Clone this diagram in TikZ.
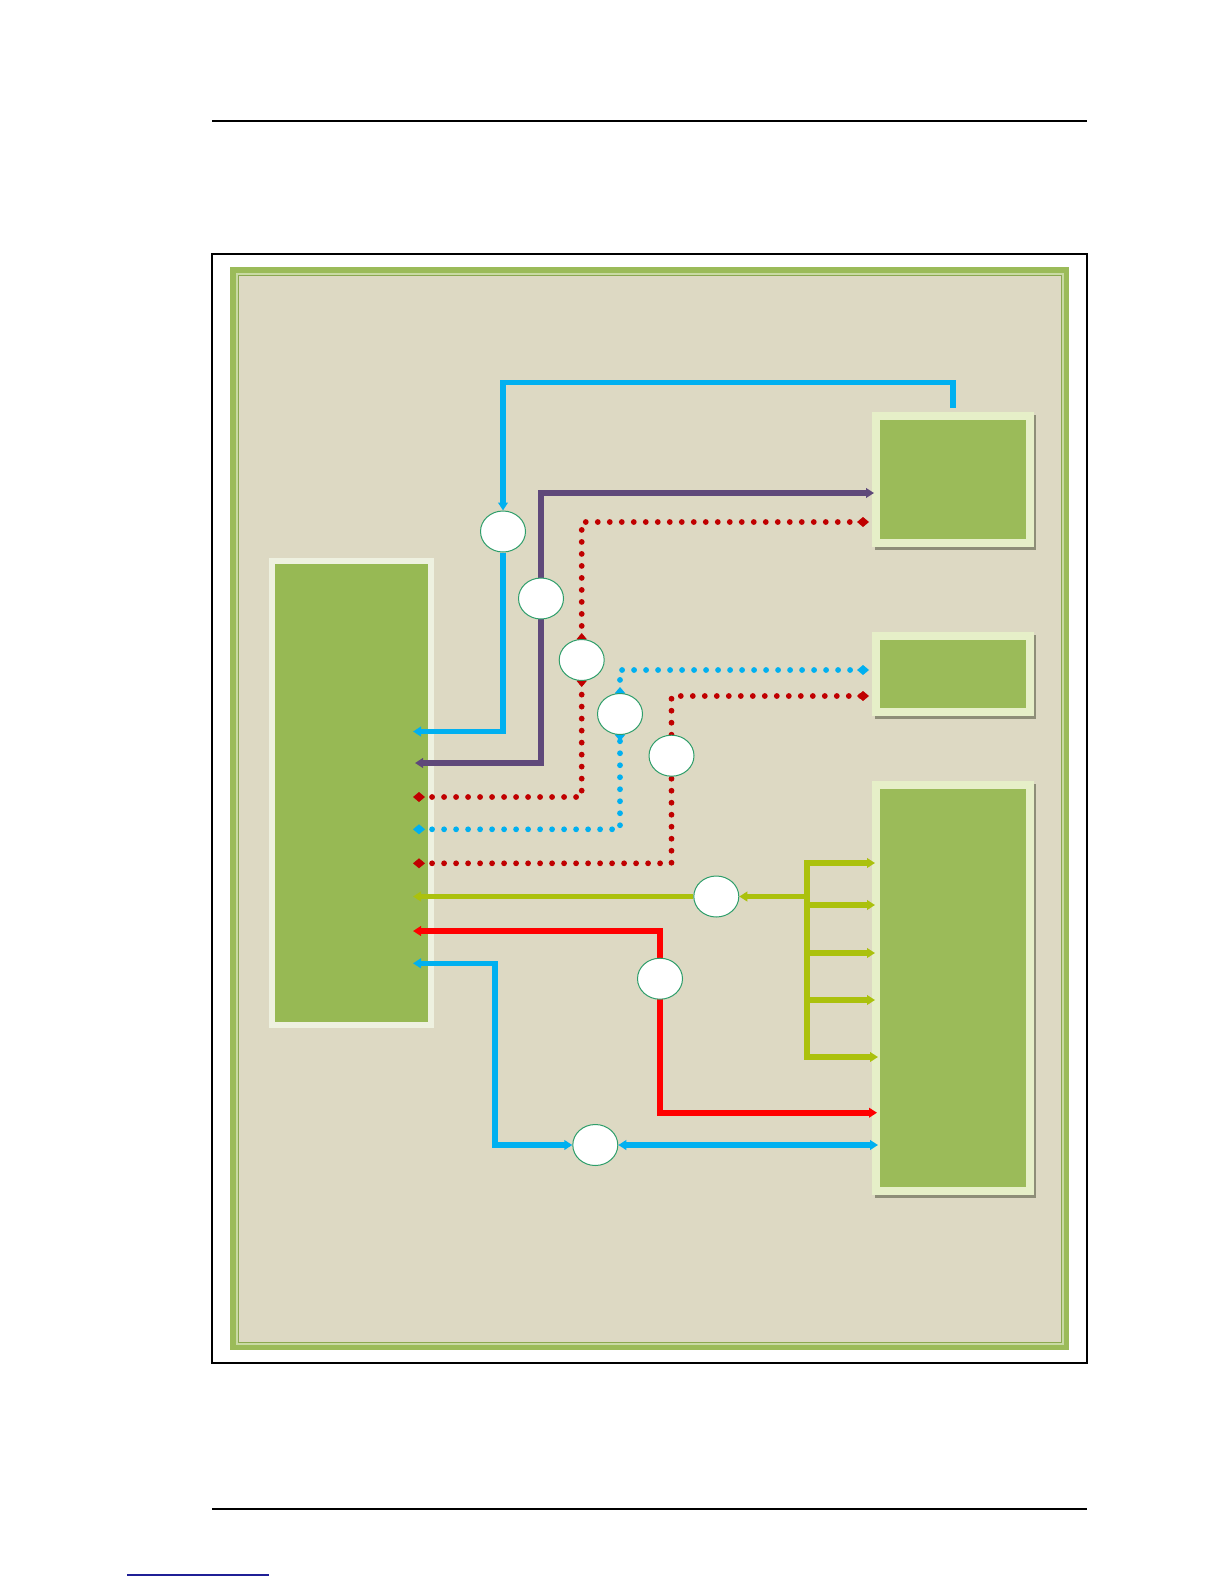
\documentclass[tikz,border=0pt]{standalone}
\usetikzlibrary{arrows.meta,shapes.geometric}
\definecolor{beige}{HTML}{DDD9C3}
\definecolor{fgreen}{HTML}{9BBB59}
\definecolor{flight}{HTML}{C9DAA4}
\definecolor{bgreen}{HTML}{9BBB59}
\definecolor{lgreen}{HTML}{97B954}
\definecolor{lborder}{HTML}{EEF1E0}
\definecolor{rborder}{HTML}{E6EFC8}
\definecolor{shadowc}{HTML}{8E8E78}
\definecolor{cyanc}{HTML}{00B0F0}
\definecolor{purc}{HTML}{5F497A}
\definecolor{dredc}{HTML}{C00000}
\definecolor{limec}{HTML}{ABC10D}
\definecolor{redc}{HTML}{FF0000}
\definecolor{ringc}{HTML}{2E9E6A}
\definecolor{linkc}{HTML}{1F1F96}
\pgfdeclarelayer{base}
\pgfdeclarelayer{wires}
\pgfsetlayers{base,wires,main}
\tikzset{
  mytri/.tip={Triangle[length=4pt,width=4.8pt]},
  mydia/.tip={Diamond[length=6pt,width=5pt]},
  wire/.style={line width=2.8pt},
  dots/.style={line width=2.9pt, line cap=round, dash pattern=on 0pt off 6pt},
  ring/.style={ellipse, draw=ringc, line width=0.5pt, fill=white, minimum width=22.5pt, minimum height=20.5pt, inner sep=0pt},
  lbox/.style={draw=lborder, fill=lgreen, line width=3pt, inner sep=0pt},
  rbox/.style={draw=rborder, fill=bgreen, line width=4pt, inner sep=0pt},
  rule/.style={line width=0.75pt, black},
}
\begin{document}
\begin{tikzpicture}[x=0.5pt,y=-0.5pt]
\useasboundingbox (0,0) rectangle (1224,1584);
\begin{pgfonlayer}{base}
\fill[white] (0,0) rectangle (1224,1584);
% page rules
\draw[rule] (212,121) -- (1087,121);
\draw[rule] (212,1509) -- (1087,1509);
\draw[linkc, line width=0.7pt] (127,1575) -- (269,1575);
% frame
\draw[rule] (212,254) rectangle (1087,1363);
\fill[fgreen] (230,267) rectangle (1069,1350);
\fill[flight] (235.5,272.5) rectangle (1063.5,1344.5);
\fill[fgreen!90!black] (237.5,274.5) rectangle (1061.5,1342.5);
\fill[beige] (238.5,275.5) rectangle (1060.5,1341.5);
% shadows
\fill[shadowc] (875,415) rectangle (1036,550);
\fill[shadowc] (875,635) rectangle (1036,719);
\fill[shadowc] (875,784) rectangle (1036,1198);
% boxes
\node[lbox, minimum width=79.5pt, minimum height=232pt] (lb) at (351.5,793) {};
\node[rbox, minimum width=77pt, minimum height=63.5pt] (rb1) at (953,479.5) {};
\node[rbox, minimum width=77pt, minimum height=38.25pt] (rb2) at (953,673.75) {};
\node[rbox, minimum width=77pt, minimum height=203pt] (rb3) at (953,988) {};
\end{pgfonlayer}

% junctions
\node[ring] (c1) at (503,531.5) {};
\node[ring] (c2) at (541,598.5) {};
\node[ring] (c3) at (581.7,660) {};
\node[ring] (c4) at (620,714) {};
\node[ring] (c5) at (671.5,755.7) {};
\node[ring] (c6) at (716.3,896.5) {};
\node[ring] (c7) at (660,978.7) {};
\node[ring] (c8) at (595.3,1145) {};

% ports
\coordinate (l1) at (413,731.5);
\coordinate (l2) at (415,763);
\coordinate (l3) at (413,797);
\coordinate (l4) at (413,829.3);
\coordinate (l5) at (413,863.3);
\coordinate (l6) at (413,896.5);
\coordinate (l7) at (413,931);
\coordinate (l8) at (413,963.3);
\coordinate (r1a) at (874,493);
\coordinate (r1b) at (869,522);
\coordinate (r2a) at (869,670);
\coordinate (r2b) at (869,696);
\coordinate (b1) at (875,863);
\coordinate (b2) at (875,905);
\coordinate (b3) at (875,953);
\coordinate (b4) at (875,1000);
\coordinate (b5) at (878,1057);
\coordinate (r3a) at (877,1112.7);
\coordinate (r3b) at (878,1145);
% corners
\coordinate (k1) at (503,382.5);
\coordinate (k2) at (541,493);
\coordinate (j6) at (807,896.5);
\coordinate (j6b) at (807,1057);
\coordinate (k7) at (660,1112.7);
\coordinate (k8) at (495,1145);

\begin{pgfonlayer}{wires}
\draw[wire,cyanc,-{mytri}] ([yshift=2pt]rb1.north) |- (k1) -- (c1.north);
\draw[wire,cyanc,-{mytri}] (c1.south) |- (l1);
\draw[wire,purc,{mytri}-{mytri}] (l2) -| (k2) -- (r1a);
\draw[dots,dredc,{mydia}-{mydia},shorten >=-3pt] (l3) -| (c3.south);
\draw[dots,dredc,{mydia}-{mydia},shorten <=-3pt] (c3.north) |- (r1b);
\draw[dots,cyanc,{mydia}-{mydia},shorten >=-3pt] (l4) -| (c4.south);
\draw[dots,cyanc,{mydia}-{mydia},shorten <=-3pt] (c4.north) |- (r2a);
\draw[dots,dredc,{mydia}-] (l5) -| (c5.south);
\draw[dots,dredc,-{mydia}] (c5.north) |- (r2b);
\draw[wire,limec,-{mytri}] (c6.west) -- (l6);
\draw[wire,limec,-{mytri}] (j6) -- (c6.east);
\draw[wire,limec,{mytri}-{mytri}] (b1) -| (j6b) -- (b5);
\draw[wire,limec,-{mytri}] (j6 |- b2) -- (b2);
\draw[wire,limec,-{mytri}] (j6 |- b3) -- (b3);
\draw[wire,limec,-{mytri}] (j6 |- b4) -- (b4);
\draw[wire,redc,{mytri}-{mytri}] (l7) -| (k7) -- (r3a);
\draw[wire,cyanc,{mytri}-{mytri}] (l8) -| (k8) -- (c8.west);
\draw[wire,cyanc,{mytri}-{mytri}] (c8.east) -- (r3b);
\end{pgfonlayer}
\end{tikzpicture}
\end{document}
